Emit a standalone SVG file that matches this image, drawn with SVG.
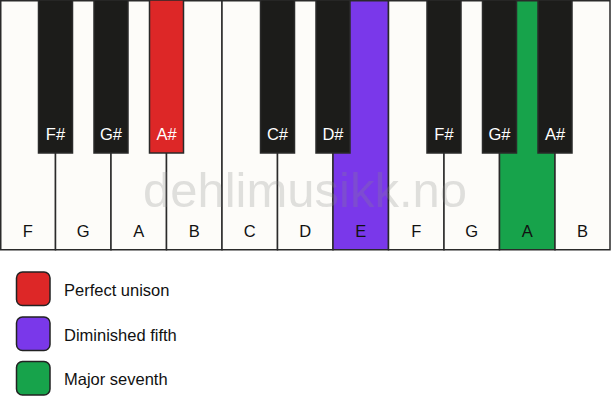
<svg xmlns="http://www.w3.org/2000/svg" width="611" height="417" viewBox="0 0 611 417">
<style>
.w{fill:#fdfcf9;stroke:#2a2a2a;stroke-width:1.5}
.b{fill:#1c1c1a;stroke:#2a2a2a;stroke-width:1.5}
.red{fill:#dd2727}
.pur{fill:#7a38ea}
.grn{fill:#17a34b}
.wl{font-family:"Liberation Sans",Arial,sans-serif;font-size:16.5px;fill:#111;text-anchor:middle}
.bl{font-family:"Liberation Sans",Arial,sans-serif;font-size:16.5px;fill:#fff;text-anchor:middle}
.lg{font-family:"Liberation Sans",Arial,sans-serif;font-size:16.5px;fill:#111}
.sw{stroke:#222;stroke-width:1.5}
</style>
<rect width="611" height="417" fill="#ffffff"/>
<g id="white-keys">
<g id="key-F1"><rect class="w" x="0.75" y="0.75" width="54.75" height="249"/><text class="wl" x="27.75" y="236.5">F</text></g>
<g id="key-G1"><rect class="w" x="55.5" y="0.75" width="55.5" height="249"/><text class="wl" x="83.25" y="236.5">G</text></g>
<g id="key-A1"><rect class="w" x="111" y="0.75" width="55.5" height="249"/><text class="wl" x="138.75" y="236.5">A</text></g>
<g id="key-B1"><rect class="w" x="166.5" y="0.75" width="55.5" height="249"/><text class="wl" x="194.25" y="236.5">B</text></g>
<g id="key-C"><rect class="w" x="222" y="0.75" width="55.5" height="249"/><text class="wl" x="249.75" y="236.5">C</text></g>
<g id="key-D"><rect class="w" x="277.5" y="0.75" width="55.5" height="249"/><text class="wl" x="305.25" y="236.5">D</text></g>
<g id="key-E"><rect class="w pur" x="333" y="0.75" width="55.5" height="249"/><text class="wl" x="360.75" y="236.5">E</text></g>
<g id="key-F2"><rect class="w" x="388.5" y="0.75" width="55.5" height="249"/><text class="wl" x="416.25" y="236.5">F</text></g>
<g id="key-G2"><rect class="w" x="444" y="0.75" width="55.5" height="249"/><text class="wl" x="471.75" y="236.5">G</text></g>
<g id="key-A2"><rect class="w grn" x="499.5" y="0.75" width="55.5" height="249"/><text class="wl" x="527.25" y="236.5">A</text></g>
<g id="key-B2"><rect class="w" x="555" y="0.75" width="55" height="249"/><text class="wl" x="582.5" y="236.5">B</text></g>
</g>
<text x="305" y="207" font-family="Liberation Sans,Arial,sans-serif" font-size="49" fill="#888" fill-opacity="0.25" text-anchor="middle">dehlimusikk.no</text>
<g id="black-keys">
<g id="key-Fs1"><rect class="b" x="38.5" y="0" width="34" height="153"/><text class="bl" x="55.5" y="140">F#</text></g>
<g id="key-Gs1"><rect class="b" x="94" y="0" width="34" height="153"/><text class="bl" x="111" y="140">G#</text></g>
<g id="key-As1"><rect class="b red" x="149.5" y="0" width="34" height="153"/><text class="bl" x="166.5" y="140">A#</text></g>
<g id="key-Cs"><rect class="b" x="260.5" y="0" width="34" height="153"/><text class="bl" x="277.5" y="140">C#</text></g>
<g id="key-Ds"><rect class="b" x="316" y="0" width="34" height="153"/><text class="bl" x="333" y="140">D#</text></g>
<g id="key-Fs2"><rect class="b" x="427" y="0" width="34" height="153"/><text class="bl" x="444" y="140">F#</text></g>
<g id="key-Gs2"><rect class="b" x="482.5" y="0" width="34" height="153"/><text class="bl" x="499.5" y="140">G#</text></g>
<g id="key-As2"><rect class="b" x="538" y="0" width="34" height="153"/><text class="bl" x="555" y="140">A#</text></g>
</g>
<g id="legend">
<g id="legend-unison"><rect class="sw red" x="16.5" y="272" width="33.5" height="33.5" rx="6"/><text class="lg" x="64" y="296">Perfect unison</text></g>
<g id="legend-dim5"><rect class="sw pur" x="16.5" y="317" width="33.5" height="33.5" rx="6"/><text class="lg" x="64" y="340.5">Diminished fifth</text></g>
<g id="legend-maj7"><rect class="sw grn" x="16.5" y="361.5" width="33.5" height="33.5" rx="6"/><text class="lg" x="64" y="385">Major seventh</text></g>
</g>
</svg>
